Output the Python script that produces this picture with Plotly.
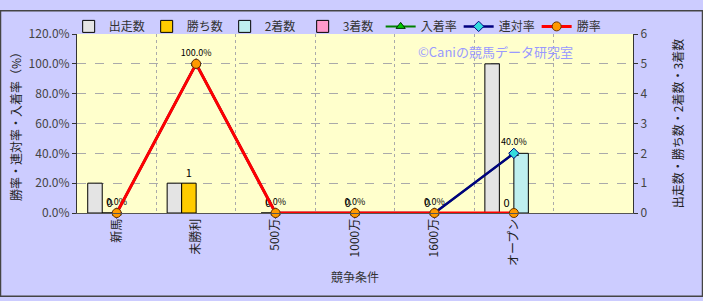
import plotly.graph_objects as go

categories = ["新馬", "未勝利", "500万", "1000万", "1600万", "オープン", " "]
cats = categories[:6]
runs = [1, 1, 0, 0, 0, 5]          # 出走数
wins = [0, 1, 0, 0, 0, 0]          # 勝ち数
seconds = [0, 0, 0, 0, 0, 2]       # 2着数
thirds = [0, 0, 0, 0, 0, 0]        # 3着数
win_rate = [0, 100, 0, 0, 0, 0]    # 勝率
rentai_rate = [0, 100, 0, 0, 0, 40]  # 連対率
place_rate = [0, 100, 0, 0, 0, 40]   # 入着率
rentai_labels = ["0.0%", "100.0%", "0.0%", "0.0%", "0.0%", "40.0%"]
win_labels = [str(v) for v in wins]

FONT = "Noto Sans CJK JP"
W, H = 703, 301
L, R, T, B = 77, 70, 25, 88
pw, ph = W - L - R, H - T - B


def nz(vals):
    # zero-height bars are not drawn (no outline on the axis)
    return [v if v > 0 else None for v in vals]


bar_line = dict(color="#000000", width=1)
fig = go.Figure()
fig.add_trace(go.Bar(name="出走数", x=cats, y=nz(runs), yaxis="y",
                     marker=dict(color="#E4E4E4", line=bar_line)))
fig.add_trace(go.Bar(name="勝ち数", x=cats, y=wins, yaxis="y",
                     marker=dict(color="#FFCC00", line=dict(color="#000000", width=1)),
                     text=win_labels, textposition="outside", cliponaxis=False,
                     textfont=dict(size=11, color="#000000", family=FONT)))
fig.add_trace(go.Bar(name="2着数", x=cats, y=nz(seconds), yaxis="y",
                     marker=dict(color="#BFEFEF", line=bar_line)))
fig.add_trace(go.Bar(name="3着数", x=cats, y=nz(thirds), yaxis="y",
                     marker=dict(color="#FF99CC", line=bar_line)))

fig.add_trace(go.Scatter(name="入着率", x=cats, y=place_rate, yaxis="y2",
                         mode="lines+markers", cliponaxis=False,
                         line=dict(color="#008000", width=2),
                         marker=dict(symbol="triangle-up", size=8, color="#00CC00",
                                     line=dict(color="#003300", width=1))))
fig.add_trace(go.Scatter(name="連対率", x=cats, y=rentai_rate, yaxis="y2",
                         mode="lines+markers+text", cliponaxis=False,
                         text=rentai_labels, textposition="top center",
                         textfont=dict(size=9, color="#000000", family=FONT),
                         line=dict(color="#000080", width=2.5),
                         marker=dict(symbol="diamond", size=8, color="#33DDDD",
                                     line=dict(color="#000080", width=1))))
fig.add_trace(go.Scatter(name="勝率", x=cats, y=win_rate, yaxis="y2",
                         mode="lines+markers", cliponaxis=False,
                         line=dict(color="#FF0000", width=3),
                         marker=dict(symbol="circle", size=9, color="#FF9900",
                                     line=dict(color="#663300", width=1))))

fig.update_layout(
    width=W, height=H,
    margin=dict(l=L, r=R, t=T, b=B),
    paper_bgcolor="#CCCCFF",
    plot_bgcolor="#FFFFCC",
    font=dict(family=FONT, size=12, color="#333333"),
    barmode="group", bargap=0.27, bargroupgap=0,
    showlegend=True,
    legend=dict(orientation="h", x=-0.015, y=1 + 8 / ph, xanchor="left", yanchor="middle",
                bgcolor="rgba(0,0,0,0)", font=dict(size=12, color="#333333"),
                itemwidth=30, tracegroupgap=0, entrywidth=33, entrywidthmode="pixels"),
    xaxis=dict(type="category", categoryorder="array", categoryarray=categories,
               range=[-0.5, 6.5], tickson="boundaries", tickangle=-90,
               showgrid=True, gridcolor="#AAAAAA", griddash="dot", gridwidth=1,
               showline=True, linecolor="#555555", linewidth=1,
               ticks="", tickfont=dict(size=12, color="#222222"),
               title=dict(text="競争条件", font=dict(size=12, color="#333333"), standoff=8)),
    yaxis=dict(side="right", range=[0, 6], dtick=1,
               showgrid=True, gridcolor="#AAAAAA", griddash="dash", gridwidth=1,
               showline=True, linecolor="#333333", linewidth=1,
               ticks="outside", ticklen=4, tickcolor="#333333",
               zeroline=False, tickfont=dict(size=12, color="#444444"),
               title=dict(text="出走数・勝ち数・2着数・3着数", font=dict(size=12, color="#222222"),
                          standoff=28)),
    yaxis2=dict(side="left", overlaying="y", range=[0, 120], dtick=20,
                tickformat=".1f", ticksuffix="%",
                showgrid=False, zeroline=False,
                showline=True, linecolor="#333333", linewidth=1,
                ticks="outside", ticklen=4, tickcolor="#333333",
                tickfont=dict(size=12, color="#444444"),
                title=dict(text="勝率・連対率・入着率（%）", font=dict(size=12, color="#222222"),
                           standoff=4)),
    annotations=[dict(text="©Caniの競馬データ研究室", xref="paper", yref="paper",
                      x=0.753, y=0.905, xanchor="center", yanchor="middle",
                      showarrow=False, font=dict(size=13, color="#9999FF", family=FONT))],
    shapes=[dict(type="rect", xref="paper", yref="paper",
                 x0=-(L - 0.5) / pw, x1=1 + (R - 0.5) / pw,
                 y0=-(B - 0.5) / ph, y1=1 + (T - 0.5) / ph,
                 line=dict(color="#444444", width=1.5), layer="above")],
)

fig.write_html("out.html")
